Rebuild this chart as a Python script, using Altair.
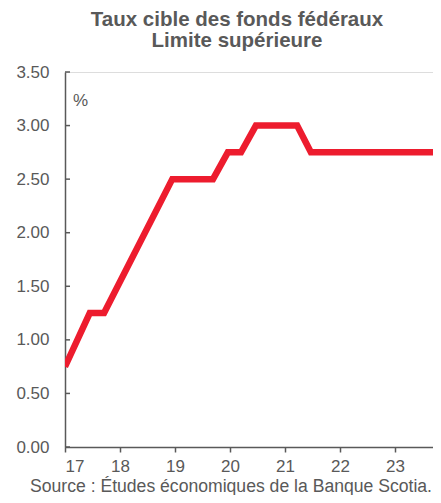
import altair as alt
import pandas as pd

# Data
years = [17.0, 17.45, 17.71, 18.95, 19.69, 19.96, 20.2, 20.47, 21.22, 21.47, 23.84]
rates = [0.75, 1.25, 1.25, 2.50, 2.50, 2.75, 2.75, 3.00, 3.00, 2.75, 2.75]
x_ticks = [17, 18, 19, 20, 21, 22, 23]
y_ticks = [0.0, 0.5, 1.0, 1.5, 2.0, 2.5, 3.0, 3.5]
title_lines = ["Taux cible des fonds fédéraux", "Limite supérieure"]
unit_label = "%"
source_label = "Source : Études économiques de la Banque Scotia."

FONT = "Liberation Sans"
GRAY = "#595959"
RED = "#ED1C2E"

line_df = pd.DataFrame({"x": years, "y": rates})
tick_df = pd.DataFrame({"y": y_ticks})
unit_df = pd.DataFrame({"x": [17.145], "y": [3.225], "t": [unit_label]})
src_df = pd.DataFrame({"x": [20.018], "y": [-0.42], "t": [source_label]})

xscale = alt.Scale(domain=[17, 23.69], nice=False, zero=False)
yscale = alt.Scale(domain=[0, 3.5], nice=False, zero=False)

line = alt.Chart(line_df).mark_line(
    color=RED, strokeWidth=6.5, clip=True, strokeJoin="miter"
).encode(
    x=alt.X("x:Q", scale=xscale,
            axis=alt.Axis(values=x_ticks, format=".0f", title=None, grid=False,
                          domainColor=GRAY, domainWidth=1.5, tickColor=GRAY,
                          tickWidth=1.5, tickSize=5, labelPadding=6,
                          labelFontSize=17, labelFont=FONT, labelColor=GRAY)),
    y=alt.Y("y:Q", scale=yscale,
            axis=alt.Axis(values=y_ticks, format=".2f", title=None, grid=False,
                          domainColor=GRAY, domainWidth=1.5, ticks=False,
                          labelPadding=16, labelFontSize=17, labelFont=FONT,
                          labelColor=GRAY)),
)

yticks = alt.Chart(tick_df).mark_rule(color=GRAY, strokeWidth=1.5).encode(
    y=alt.Y("y:Q", scale=yscale),
    x=alt.value(0),
    x2=alt.value(5),
)

unit = alt.Chart(unit_df).mark_text(
    align="left", baseline="middle", fontSize=17, font=FONT, color=GRAY
).encode(x=alt.X("x:Q", scale=xscale), y=alt.Y("y:Q", scale=yscale), text="t:N")

source = alt.Chart(src_df).mark_text(
    align="center", baseline="alphabetic", fontSize=17.6, font=FONT, color=GRAY
).encode(x=alt.X("x:Q", scale=xscale), y=alt.Y("y:Q", scale=yscale), text="t:N")

chart = alt.layer(yticks, line, unit, source).properties(
    width=368,
    height=375,
    autosize=alt.AutoSizeParams(type="none"),
    padding={"left": 57, "top": 64, "right": 0, "bottom": 48},
    title=alt.TitleParams(
        text=title_lines, fontSize=20.5, fontWeight="bold", font=FONT,
        color=GRAY, anchor="middle", dx=-12, offset=12, lineHeight=21,
    ),
).configure_view(stroke=None).configure(background="white")

chart.save("out.html", embed_options={"renderer": "svg", "actions": False})
